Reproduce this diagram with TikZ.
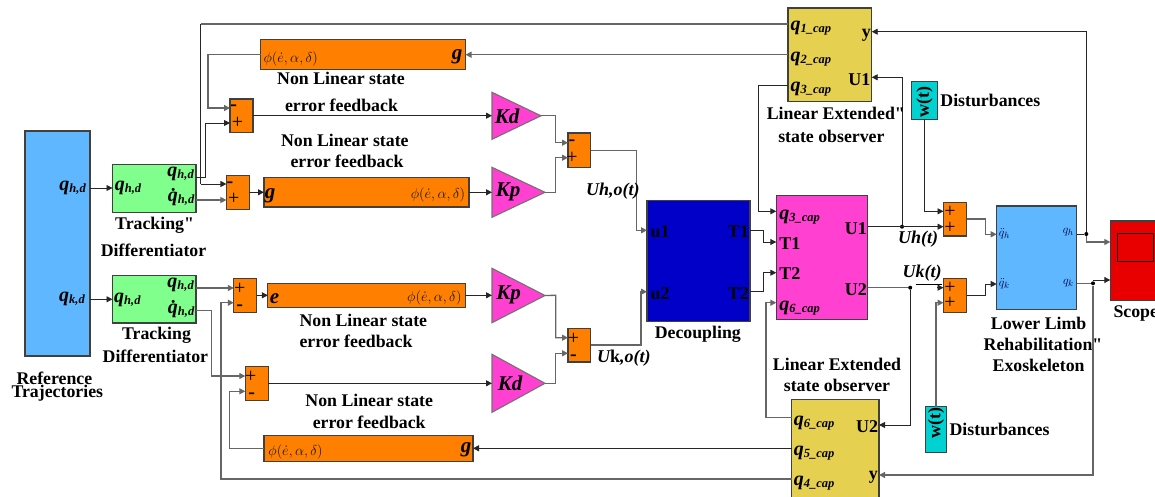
\documentclass[tikz,border=0pt]{standalone}
\usepackage{amsmath}
\usepackage{fontspec}
\setmainfont{Liberation Serif}
\newfontfamily\quotefont{Liberation Serif}
\usetikzlibrary{arrows.meta}
\usetikzlibrary{shapes.geometric}
\definecolor{refblue}{HTML}{5FB8FF}
\definecolor{trkgreen}{HTML}{80FF8C}
\definecolor{ctrlorange}{HTML}{FF8000}
\definecolor{gainpink}{HTML}{FF40D0}
\definecolor{obsgold}{HTML}{E6D050}
\definecolor{decblue}{HTML}{0000C8}
\definecolor{distcyan}{HTML}{00D2D2}
\definecolor{scopered}{HTML}{E80000}
\newcommand{\qlab}[1]{{\fontsize{20}{20}\selectfont\bfseries\itshape q\raisebox{-2pt}{\fontsize{12.5}{12.5}\selectfont #1}}}
\newcommand{\qdlab}[1]{{\fontsize{20}{20}\selectfont\bfseries\itshape \.q\raisebox{-2pt}{\fontsize{12.5}{12.5}\selectfont #1}}}
\newcommand{\qcap}[1]{\qlab{#1\_cap}}
\newcommand{\philab}{$\phi(\dot e,\alpha,\delta)$}
\newcommand{\dquote}{{\quotefont"}}
\tikzset{
  block/.style 2 args={draw=black!75, line width=1.1pt, inner sep=0pt, outer sep=0pt,
    anchor=north west, minimum width=#1pt, minimum height=#2pt},
  gain/.style 2 args={isosceles triangle, isosceles triangle stretches, shape border rotate=0,
    draw=black!55, line width=1.1pt, fill=gainpink, inner sep=0pt, outer sep=0pt,
    anchor=right corner, minimum height=#1pt, minimum width=#2pt},
  sig/.style={draw=black!85, line width=0.9pt, -{Stealth[length=6pt,width=6pt,inset=0pt]}},
  sigg/.style={sig, draw=black!60, line width=1.3pt},
  wire/.style={draw=black!85, line width=0.9pt},
  wireg/.style={draw=black!60, line width=1.3pt},
  dot/.style={circle, fill=black, inner sep=0pt, minimum size=4pt},
  captxt/.style={font=\fontsize{17.8}{18}\selectfont\bfseries, inner sep=0pt},
  port/.style={font=\fontsize{18}{18}\selectfont\bfseries, inner sep=0pt},
  ital/.style={font=\fontsize{18}{18}\selectfont\bfseries\itshape, inner sep=0pt},
  gname/.style={font=\fontsize{21}{21}\selectfont\bfseries\itshape, inner sep=0pt},
  sign/.style={font=\fontsize{20}{20}\selectfont, inner sep=0pt},
  phi/.style={font=\fontsize{15}{15}\selectfont, text=black!90, inner sep=0pt},
  plant/.style={font=\fontsize{13}{13}\selectfont, text=black!70!blue, inner sep=0pt},
}
\begin{document}
\begin{tikzpicture}[x=1pt,y=-1pt]
\useasboundingbox (0,0) rectangle (1155,497);
% blocks
\node[block={65}{225},fill=refblue] (traj) at (25,131) {};
\node[block={83.5}{47.5},fill=trkgreen] (trackH) at (112.5,164.7) {};
\node[block={83.5}{47.7},fill=trkgreen] (trackK) at (112.5,275.3) {};
\node[block={23}{33.7},fill=ctrlorange] (sumA) at (230,99) {};
\node[block={23}{34},fill=ctrlorange] (sumB) at (226.4,175.3) {};
\node[block={22.5}{34.3},fill=ctrlorange] (sumC) at (568,133) {};
\node[block={23}{33.6},fill=ctrlorange] (sumD) at (233.8,278.7) {};
\node[block={22.5}{33.3},fill=ctrlorange] (sumE) at (568,328.7) {};
\node[block={23}{33.6},fill=ctrlorange] (sumF) at (245.3,366.7) {};
\node[block={23}{33.7},fill=ctrlorange] (sumG) at (943.5,202.3) {};
\node[block={23}{33.6},fill=ctrlorange] (sumH) at (943.5,278.7) {};
\node[block={205}{30.4},fill=ctrlorange] (fbA) at (260.5,39.3) {};
\node[block={205}{29.3},fill=ctrlorange] (fbB) at (264,177.7) {};
\node[block={197.5}{24.4},fill=ctrlorange] (fbC) at (267.9,283.3) {};
\node[block={209}{25.6},fill=ctrlorange] (fbD) at (264,435.7) {};
\node[gain={49}{47}] (kdA) at (492,139.3) {};
\node[gain={53}{50}] (kpA) at (492,217.3) {};
\node[gain={53}{54.4}] (kpB) at (492,322.7) {};
\node[gain={53}{58}] (kdB) at (492,412.3) {};
\node[block={103}{120.6},fill=decblue] (decoup) at (647,200.7) {};
\node[block={91.3}{124},fill=gainpink] (ctrl) at (776.3,195.3) {};
\node[block={83.7}{93.3},fill=obsgold] (obsA) at (788,8) {};
\node[block={87.2}{110},fill=obsgold] (obsB) at (791.8,399.7) {};
\node[block={26.3}{38},fill=distcyan] (distA) at (911.3,81.3) {};
\node[block={21.4}{45.6},fill=distcyan] (distB) at (925.4,406.7) {};
\node[block={80}{103.3},fill=refblue] (exo) at (996.7,206) {};
\node[block={60}{79.7},fill=scopered] (scope) at (1110.3,221) {};
\node[block={36}{28},draw=black] (screen) at (1117.3,233.3) {};
% ports
\coordinate (sAm) at (sumA.west |- 0,108);
\coordinate (sAp) at (sumA.west |- 0,123);
\coordinate (sBm) at (sumB.west |- 0,184);
\coordinate (sBp) at (sumB.west |- 0,200);
\coordinate (sCm) at (sumC.west |- 0,142.7);
\coordinate (sCp) at (sumC.west |- 0,157.7);
\coordinate (sDp) at (sumD.west |- 0,288);
\coordinate (sDm) at (sumD.west |- 0,302.7);
\coordinate (sEp) at (sumE.west |- 0,337.7);
\coordinate (sEm) at (sumE.west |- 0,353.3);
\coordinate (sFp) at (sumF.west |- 0,376);
\coordinate (sFm) at (sumF.west |- 0,391.3);
\coordinate (sGa) at (sumG.west |- 0,211.3);
\coordinate (sGb) at (sumG.west |- 0,226.7);
\coordinate (sHa) at (sumH.west |- 0,287.7);
\coordinate (sHb) at (sumH.west |- 0,302.7);
\coordinate (tHa) at (trackH.east |- 0,177);
\coordinate (tHb) at (trackH.east |- 0,200);
\coordinate (tKa) at (trackK.east |- 0,288);
\coordinate (tKb) at (trackK.east |- 0,310.7);
\coordinate (oAa) at (obsA.west |- 0,24);
\coordinate (oAb) at (obsA.west |- 0,54.7);
\coordinate (oAc) at (obsA.west |- 0,85.3);
\coordinate (oAy) at (obsA.east |- 0,31.7);
\coordinate (oAu) at (obsA.east |- 0,77.3);
\coordinate (oBa) at (obsB.west |- 0,417.7);
\coordinate (oBb) at (obsB.west |- 0,448.3);
\coordinate (oBc) at (obsB.west |- 0,479);
\coordinate (oBu) at (obsB.east |- 0,425);
\coordinate (oBy) at (obsB.east |- 0,475);
\coordinate (cTa) at (ctrl.west |- 0,211.3);
\coordinate (cTb) at (ctrl.west |- 0,242);
\coordinate (cTc) at (ctrl.west |- 0,272.7);
\coordinate (cTd) at (ctrl.west |- 0,302.7);
\coordinate (dIa) at (decoup.west |- 0,230.3);
\coordinate (dIb) at (decoup.west |- 0,291.7);
\coordinate (dOa) at (decoup.east |- 0,230.3);
\coordinate (dOb) at (decoup.east |- 0,291.7);
\coordinate (xIa) at (exo.west |- 0,234.3);
\coordinate (xIb) at (exo.west |- 0,284);
\coordinate (xOa) at (exo.east |- 0,234);
\coordinate (xOb) at (exo.east |- 0,283.3);
\coordinate (scIa) at (scope.west |- 0,242);
\coordinate (scIb) at (scope.west |- 0,280);
\coordinate (tapH) at (200.5,184);
\coordinate (sHt) at (937,287.7);
\node[dot] (dotH) at (902,226.7) {};
\node[dot] (dotK) at (910.2,287.7) {};
\node[dot] (dotQh) at (1086.3,234) {};
\node[dot] (dotQk) at (1093,283.3) {};
% connectors
\draw[sig] (traj.east |- 0,188) -- (trackH.west |- 0,188);
\draw[sig] (traj.east |- 0,299.3) -- (trackK.west |- 0,299.3);
\draw[sig] (tHa) -- (205,177) |- (sAp);
\draw[sigg] (tHb) -- (sBp);
\draw[sig] (tapH) -- (sBm);
\draw[wire] (tapH) -- (200.5,24);
\draw[wireg] (200.5,24) -- (oAa);
\draw[sigg] (oAb) -- (fbA.east |- oAb);
\draw[sigg] (fbA.west |- oAb) -| (208,108) -- (sAm);
\draw[sig] (sumA.east |- 0,115.7) -- (kdA.west |- 0,115.7);
\draw[sig] (sumB.east |- 0,192.3) -- (fbB.west |- 0,192.3);
\draw[sig] (fbB.east |- 0,192.3) -- (kpA.west |- 0,192.3);
\draw[sigg] (kdA.apex) -- (555.7,115.8) |- (sCm);
\draw[sigg] (kpA.apex) -- (555.7,192.3) |- (sCp);
\draw[sigg] (sumC.east |- 0,150.3) -| (636.8,230.3) -- (dIa);
\draw[sigg] (tKa) -- (sDp);
\draw[sigg] (tKb) -- (211.2,310.7) |- (sFp);
\draw[sigg] (oBc) -| (220.9,302.7) -- (sDm);
\draw[sig] (sumD.east |- 0,295.3) -- (fbC.west |- 0,295.3);
\draw[sig] (fbC.east |- 0,295.3) -- (kpB.west |- 0,295.3);
\draw[sig] (sumF.east |- 0,383.3) -- (kdB.west |- 0,383.3);
\draw[sig] (oBb) -- (fbD.east |- oBb);
\draw[sigg] (fbD.west |- oBb) -| (229.7,391.3) -- (sFm);
\draw[sigg] (kpB.apex) -- (555.7,295.3) |- (sEp);
\draw[sigg] (kdB.apex) -- (555.7,383.3) |- (sEm);
\draw[sigg] (sumE.east |- 0,345) -| (640.9,291.7) -- (dIb);
\draw[sig] (dOa) -| (763.7,242) -- (cTb);
\draw[sig] (dOb) -| (763.7,272.7) -- (cTc);
\draw[sig] (oAc) -| (758.9,211.3) -- (cTa);
\draw[sigg] (oBa) -| (765.9,302.7) -- (cTd);
\draw[sig] (ctrl.east |- dotH) -- (sGb);
\draw[sig] (dotH) |- (oAu);
\draw[wireg] (ctrl.east |- dotK) -- (dotK);
\draw[sig] (sHt) -- (sHa);
\draw[sig] (dotK) |- (oBu);
\draw[sig] (distA.south) |- (sGa);
\draw[sigg] (distB.north) |- (sHb);
\draw[sigg] (sumG.east |- 0,219) -| (985.7,234.3) -- (xIa);
\draw[sig] (sumH.east |- 0,295.3) -| (985.7,284) -- (xIb);
\draw[wire] (xOa) -- (dotQh);
\draw[sigg] (dotQh) |- (scIa);
\draw[wireg] (xOb) -- (dotQk);
\draw[sig] (dotQk) |- (scIb);
\draw[sig] (dotQh) |- (oAy);
\draw[sigg] (dotQk) |- (oBy);
% block texts
\node[anchor=east,inner sep=0pt] (lblTrajH) at (86,188) {\qlab{h,d}};
\node[anchor=east,inner sep=0pt] (lblTrajK) at (85,299) {\qlab{k,d}};
\node[anchor=west,inner sep=0pt] (lblTHi) at (114.7,188) {\qlab{h,d}};
\node[anchor=east,inner sep=0pt] (lblTHa) at (194,174) {\qlab{h,d}};
\node[anchor=east,inner sep=0pt] (lblTHb) at (194.5,197) {\qdlab{h,d}};
\node[anchor=west,inner sep=0pt] (lblTKi) at (114,300) {\qlab{h,d}};
\node[anchor=east,inner sep=0pt] (lblTKa) at (194,285) {\qlab{h,d}};
\node[anchor=east,inner sep=0pt] (lblTKb) at (194.5,309) {\qdlab{h,d}};
\node[captxt] (capTrkA) at (154.6,225.3) {Tracking\dquote};
\node[captxt] (capTrkB) at (153.5,250.5) {Differentiator};
\node[captxt] (capTrkC) at (156.5,335.7) {Tracking};
\node[captxt] (capTrkD) at (155.4,356.7) {Differentiator};
\node[captxt] (capRefA) at (54.4,378.7) {Reference};
\node[captxt] (capRefB) at (57.3,393.3) {Trajectories};
\node[captxt] (capFbA) at (341,78.7) {Non Linear state};
\node[captxt] (capFbB) at (341.5,105.7) {error feedback};
\node[captxt] (capFbC) at (344.8,140.7) {Non Linear state};
\node[captxt] (capFbD) at (347,161.7) {error feedback};
\node[captxt] (capFbE) at (363.3,320.7) {Non Linear state};
\node[captxt] (capFbF) at (356,341.3) {error feedback};
\node[captxt] (capFbG) at (369.2,400.7) {Non Linear state};
\node[captxt] (capFbH) at (369.2,422.7) {error feedback};
\node[phi,anchor=west] (phiA) at (263.4,58.5) {\philab};
\node[phi,anchor=east] (phiB) at (465.4,195) {\philab};
\node[phi,anchor=east] (phiC) at (461.7,298) {\philab};
\node[phi,anchor=west] (phiD) at (268.2,451.5) {\philab};
\node[gname] (gA) at (457,57) {g};
\node[gname] (gB) at (270,196) {g};
\node[gname] (eC) at (274.5,298.3) {e};
\node[gname] (gD) at (466,450) {g};
\node[gname] (lblKdA) at (507,116.3) {Kd};
\node[gname] (lblKpA) at (508,192) {Kp};
\node[gname] (lblKpB) at (508.7,295) {Kp};
\node[gname] (lblKdB) at (510,383) {Kd};
\node[sign] (sgAm) at (233.8,107.7) {\bfseries -};
\node[sign] (sgAp) at (237.5,123.3) {+};
\node[sign] (sgBm) at (230,184.3) {\bfseries -};
\node[sign] (sgBp) at (233.8,199) {+};
\node[sign] (sgCm) at (572,142.7) {\bfseries -};
\node[sign] (sgCp) at (572,157.7) {+};
\node[sign] (sgDp) at (239.7,288.7) {+};
\node[sign] (sgDm) at (239.7,307.7) {\bfseries -};
\node[sign] (sgEp) at (573.5,339) {+};
\node[sign] (sgEm) at (573.5,357.7) {\bfseries -};
\node[sign] (sgFp) at (250.8,376.7) {+};
\node[sign] (sgFm) at (251.6,395.3) {\bfseries -};
\node[sign] (sgGa) at (950,212) {+};
\node[sign] (sgGb) at (950,228) {+};
\node[sign] (sgHa) at (950,288.3) {+};
\node[sign] (sgHb) at (950,303.3) {+};
\node[anchor=west,inner sep=0pt] (lblOAa) at (790.3,28) {\qcap{1}};
\node[anchor=west,inner sep=0pt] (lblOAb) at (790.3,59.3) {\qcap{2}};
\node[anchor=west,inner sep=0pt] (lblOAc) at (790.3,89.3) {\qcap{3}};
\node[port,anchor=east] (lblOAy) at (871,35) {y};
\node[port,anchor=east] (lblOAu) at (870.5,79.3) {U1};
\node[captxt] (capObsA) at (835.8,113.3) {Linear Extended\dquote};
\node[captxt] (capObsB) at (831.4,136) {state observer};
\node[port,rotate=90] (lblWA) at (924.6,101.7) {w(t)};
\node[captxt,anchor=west] (capDistA) at (940.2,100) {Disturbances};
\node[anchor=west,inner sep=0pt] (lblCa) at (779.2,216.7) {\qcap{3}};
\node[port,anchor=west] (lblCb) at (779.2,243.3) {T1};
\node[port,anchor=west] (lblCc) at (779.2,274) {T2};
\node[anchor=west,inner sep=0pt] (lblCd) at (779.2,308.3) {\qcap{6}};
\node[port,anchor=east] (lblCu) at (867,228.3) {U1};
\node[port,anchor=east] (lblCv) at (867,289.3) {U2};
\node[port,anchor=west] (lblDa) at (650.5,231.7) {u1};
\node[port,anchor=west] (lblDb) at (650.5,293.3) {u2};
\node[port,anchor=east] (lblDc) at (749,231.7) {T1};
\node[port,anchor=east] (lblDd) at (749,293.3) {T2};
\node[captxt] (capDec) at (697.8,334.3) {Decoupling};
\node[ital,anchor=west] (lblUho) at (586,190.7) {Uh,o(t)};
\node[ital,anchor=west] (lblUko) at (597,358.3) {U{\upshape k},o(t)};
\node[ital,anchor=west] (lblUh) at (898,239.3) {Uh(t)};
\node[ital,anchor=west] (lblUk) at (902.4,275) {U\underline{k(t)}};
\node[plant,anchor=west] (lblXa) at (998.6,234) {$\ddot q_h$};
\node[plant,anchor=west] (lblXb) at (998.6,284) {$\ddot q_k$};
\node[plant,anchor=east] (lblXc) at (1074,232.3) {$q_h$};
\node[plant,anchor=east] (lblXd) at (1074,283.3) {$q_k$};
\node[captxt] (capExoA) at (1038.6,323.3) {Lower Limb};
\node[captxt] (capExoB) at (1043,344.3) {Rehabilitation\dquote};
\node[captxt] (capExoC) at (1038.6,365.3) {Exoskeleton};
\node[captxt,anchor=west] (capScope) at (1113.3,313.3) {Scope};
\node[anchor=west,inner sep=0pt] (lblOBa) at (793.6,423.3) {\qcap{6}};
\node[anchor=west,inner sep=0pt] (lblOBb) at (793.6,452.7) {\qcap{5}};
\node[anchor=west,inner sep=0pt] (lblOBc) at (793.6,483.3) {\qcap{4}};
\node[port,anchor=east] (lblOBu) at (878.4,426.7) {U2};
\node[port,anchor=east] (lblOBy) at (878,477.7) {y};
\node[captxt] (capObsC) at (837,364.3) {Linear Extended};
\node[captxt] (capObsD) at (837,385.3) {state observer};
\node[port,rotate=90] (lblWB) at (936,423.3) {w(t)};
\node[captxt,anchor=west] (capDistB) at (949.4,429.3) {Disturbances};
\end{tikzpicture}
\end{document}
